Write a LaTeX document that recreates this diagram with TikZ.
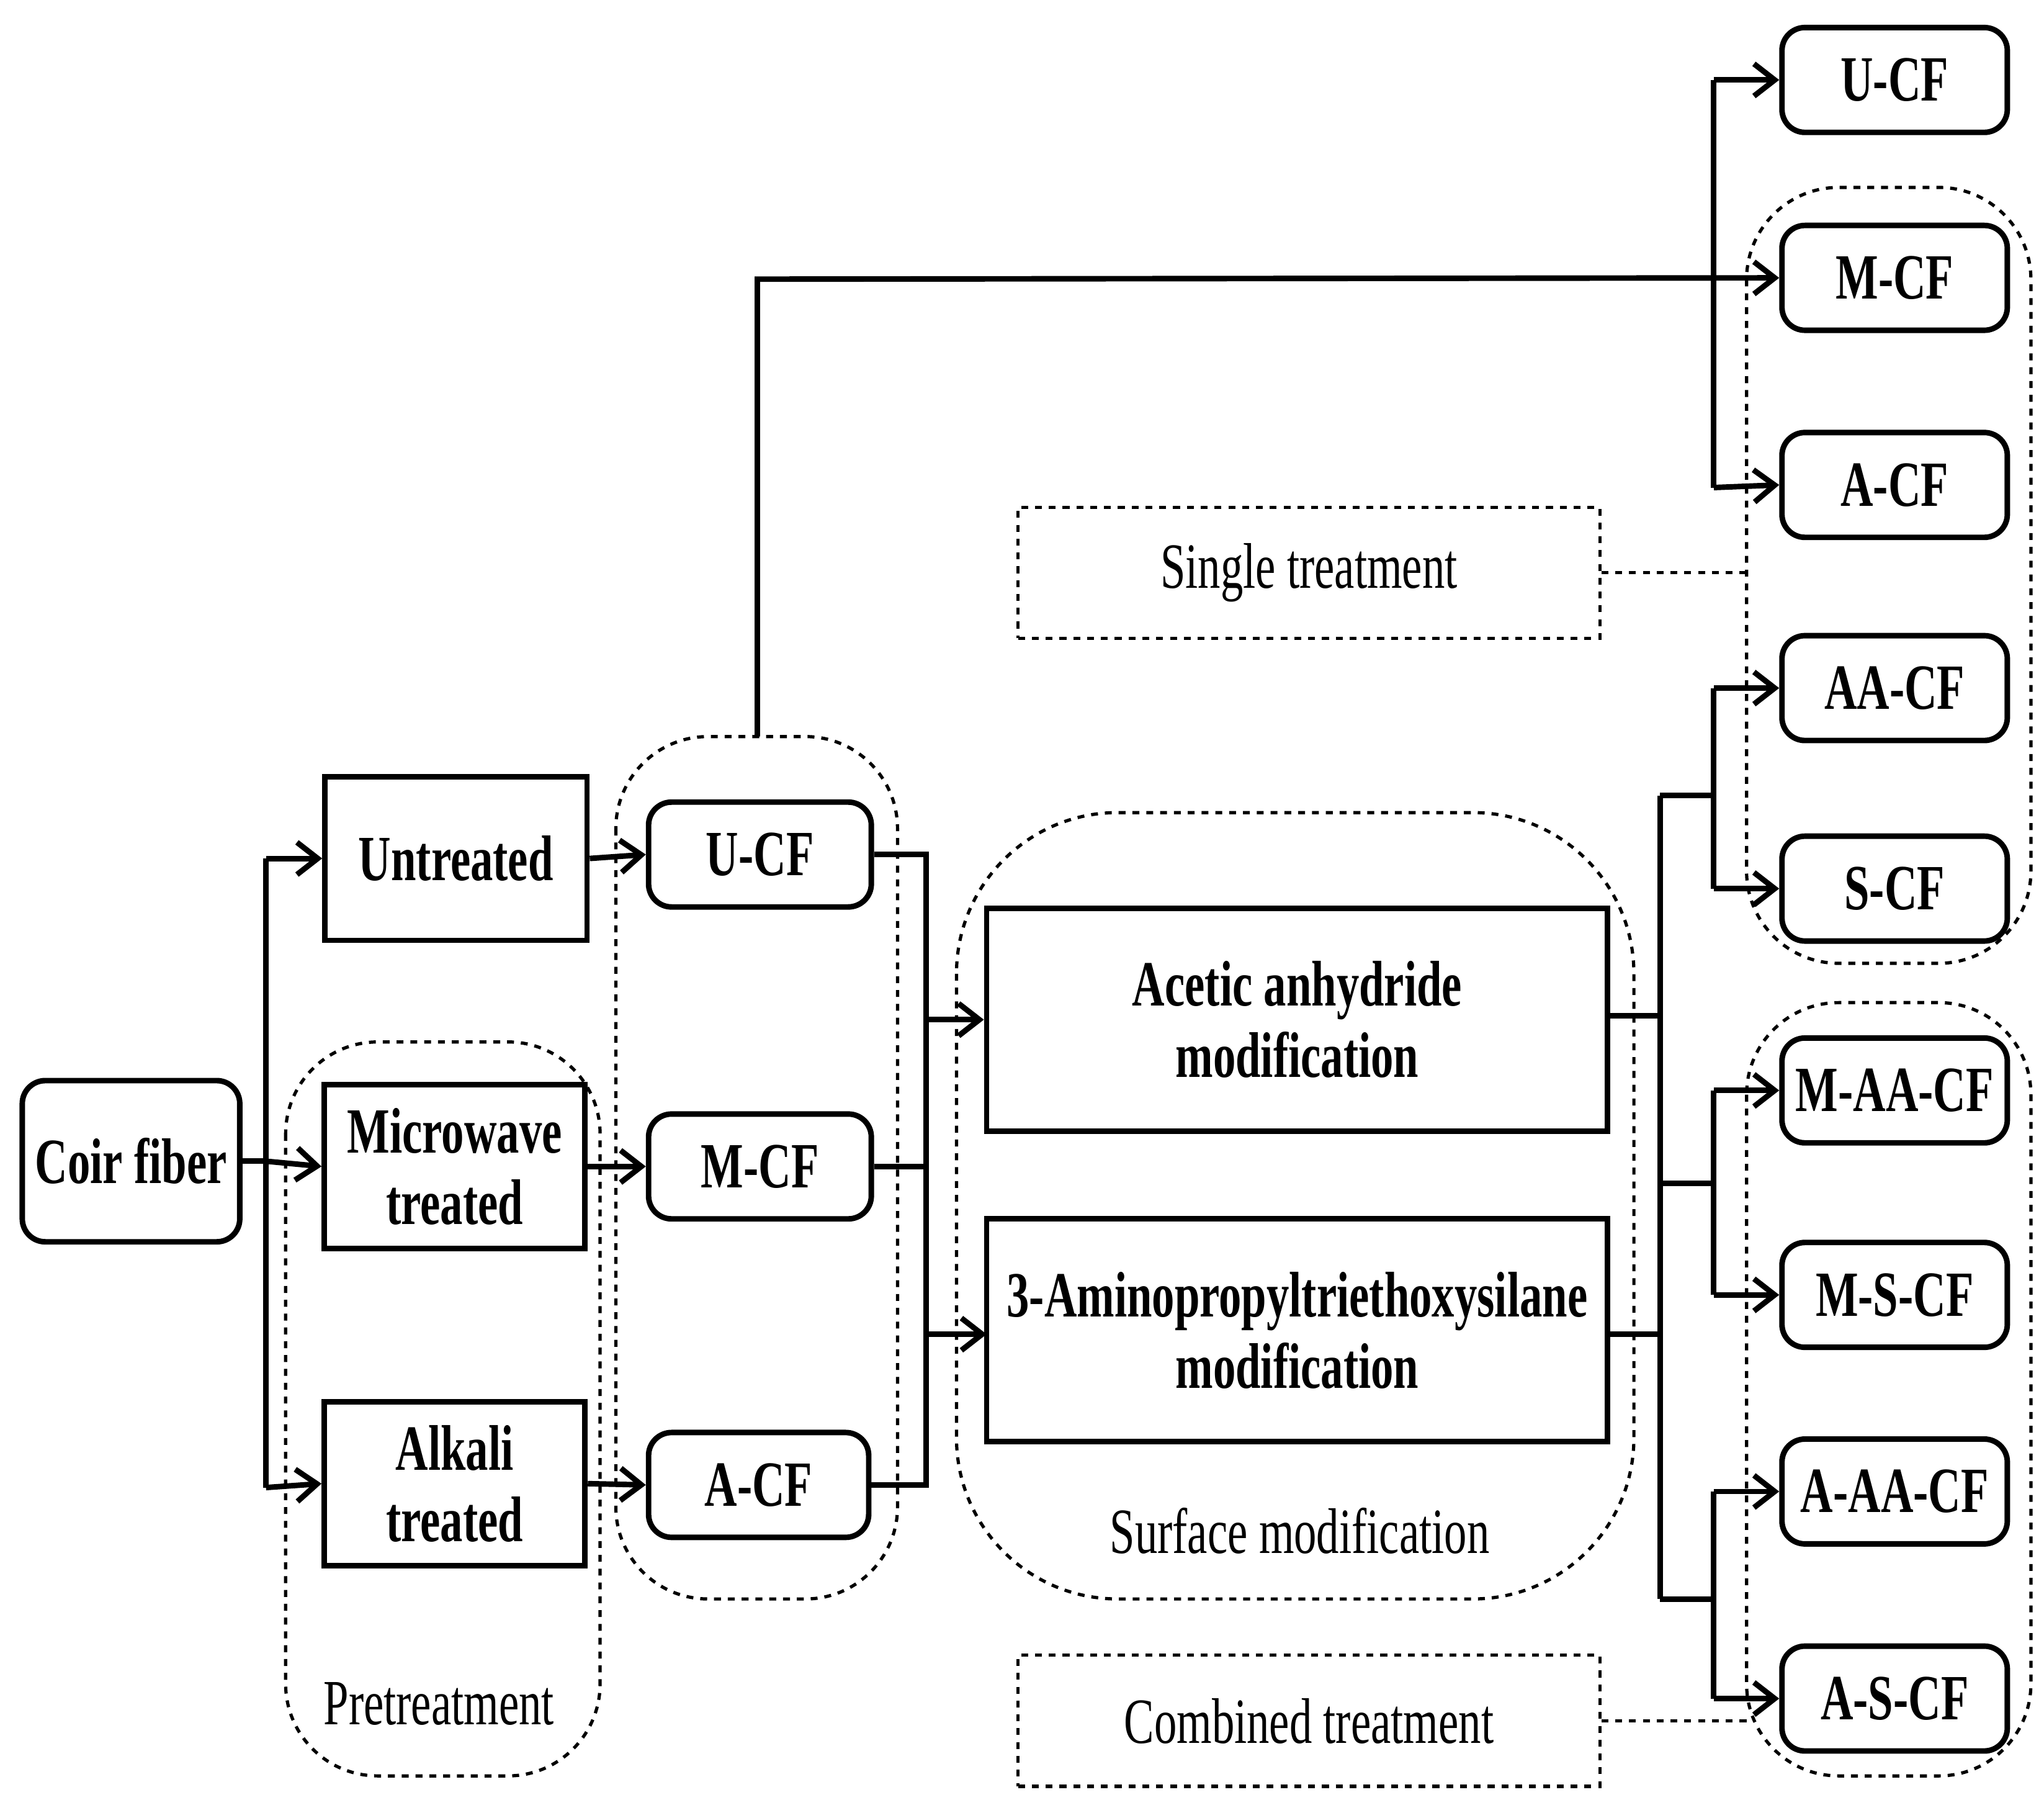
\documentclass[tikz,border=0pt]{standalone}
\usepackage{fontspec}
\setmainfont{Liberation Serif}[FakeStretch=0.7]
\usetikzlibrary{arrows.meta}
\begin{document}
\begin{tikzpicture}[x=0.02cm,y=-0.02cm,
  box/.style={draw,line width=2.4pt,font=\fontsize{28}{31}\selectfont\bfseries,align=center,inner sep=0pt},
  rbox/.style={box,rounded corners=10pt},
  grp/.style={draw,dashed,line width=1.4pt,rounded corners=40pt},
  lab/.style={draw,dashed,line width=1.4pt,font=\fontsize{28}{31}\selectfont,inner sep=0pt},
  txt/.style={font=\fontsize{28}{31}\selectfont},
  ln/.style={line width=2.4pt},
  ar/.style={ln,-{Straight Barb[length=9pt,width=14pt,line width=2.4pt]}}]
\useasboundingbox (0,0) rectangle (1560,1373);
% groups
\draw[grp] (218,795) rectangle (458,1355);
\node[txt] at (335,1300) {Pretreatment};
\draw[grp] (470,562) rectangle (685,1220);
\draw[grp,rounded corners=70pt] (730,620) rectangle (1247,1220);
\node[txt] at (992,1168) {Surface modification};
\draw[grp] (1333,143) rectangle (1550,735);
\draw[grp] (1333,765) rectangle (1550,1355);
% nodes
\node[rbox,minimum width=166*0.02cm,minimum height=123*0.02cm] (coir) at (100,886) {Coir fiber};
\node[box,minimum width=200*0.02cm,minimum height=125*0.02cm] (unt) at (348,655) {Untreated};
\node[box,minimum width=199*0.02cm,minimum height=125*0.02cm] (mic) at (347,890) {Microwave\\treated};
\node[box,minimum width=199*0.02cm,minimum height=125*0.02cm] (alk) at (347,1132) {Alkali\\treated};
\node[rbox,minimum width=170*0.02cm,minimum height=80*0.02cm] (ucf) at (580,652) {U-CF};
\node[rbox,minimum width=170*0.02cm,minimum height=80*0.02cm] (mcf) at (580,890) {M-CF};
\node[rbox,minimum width=168*0.02cm,minimum height=80*0.02cm] (acf) at (579,1133) {A-CF};
\node[box,minimum width=474*0.02cm,minimum height=170*0.02cm] (aa) at (990,778) {Acetic anhydride\\modification};
\node[box,minimum width=474*0.02cm,minimum height=170*0.02cm] (ap) at (990,1015) {3-Aminopropyltriethoxysilane\\modification};
\foreach \n/\t/\y in {r1/U-CF/61,r2/M-CF/212,r3/A-CF/370,r4/AA-CF/525,r5/S-CF/678,r6/M-AA-CF/832,r7/M-S-CF/988,r8/A-AA-CF/1138,r9/A-S-CF/1296}
  \node[rbox,minimum width=172*0.02cm,minimum height=80*0.02cm] (\n) at (1446,\y) {\t};
\node[lab,minimum width=444*0.02cm,minimum height=100*0.02cm] (st) at (999,437) {Single treatment};
\node[lab,minimum width=444*0.02cm,minimum height=100*0.02cm] (ct) at (999,1313) {Combined treatment};
\draw[dashed,line width=1.4pt] (st.east) -- (1333,437);
\draw[dashed,line width=1.4pt] (ct.east) -- (1333,1313);
% connectors
\draw[ln] (coir.east) -- (203,886);
\draw[ln] (203,655) -- (203,1135);
\draw[ar] (203,655) -- (unt.west);
\draw[ar] (203,886) -- (mic.west);
\draw[ar] (203,1135) -- (alk.west);
\draw[ar] (unt.east) -- (ucf.west);
\draw[ar] (mic.east) -- (mcf.west);
\draw[ar] (alk.east) -- (acf.west);
\draw[ln] (ucf.east) -- (707,652) -- (707,1133) -- (acf.east);
\draw[ln] (mcf.east) -- (707,890);
\draw[ar] (707,778) -- (aa.west);
\draw[ar] (707,1018) -- (753,1018);
\draw[ar] (578,562) -- (578,213) -- (r2.west);
\draw[ln] (1308,61) -- (1308,372);
\draw[ar] (1308,61) -- (r1.west);
\draw[ar] (1308,372) -- (r3.west);
\draw[ln] (1227,775) -- (1267,775);
\draw[ln] (1227,1018) -- (1267,1018);
\draw[ln] (1267,607) -- (1267,1220);
\draw[ln] (1267,607) -- (1308,607); \draw[ln] (1308,525) -- (1308,678);
\draw[ar] (1308,525) -- (r4.west); \draw[ar] (1308,678) -- (r5.west);
\draw[ln] (1267,903) -- (1308,903); \draw[ln] (1308,832) -- (1308,988);
\draw[ar] (1308,832) -- (r6.west); \draw[ar] (1308,988) -- (r7.west);
\draw[ln] (1267,1220) -- (1308,1220); \draw[ln] (1308,1138) -- (1308,1296);
\draw[ar] (1308,1138) -- (r8.west); \draw[ar] (1308,1296) -- (r9.west);
\end{tikzpicture}
\end{document}
